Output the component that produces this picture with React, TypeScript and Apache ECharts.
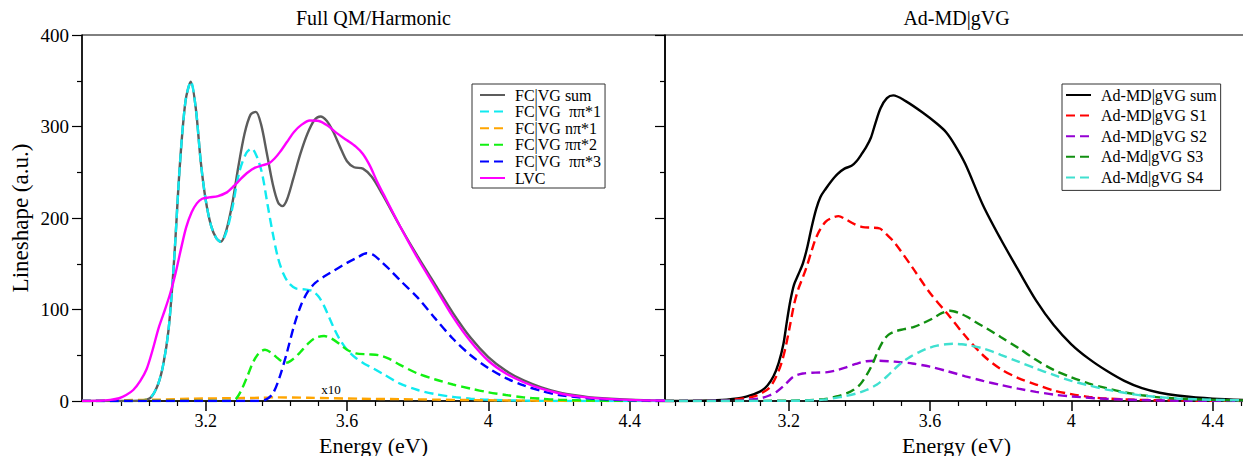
import React, { useEffect, useRef } from "react";
import * as echarts from "echarts";

type P = [number, number];

// ---------- Left panel: Full QM/Harmonic ----------
const fcvgSum: P[] = [[2.85,0],[2.98,0],[3.02,0.5],[3.045,4],[3.065,18],[3.08,40],[3.095,78],[3.11,150],[3.127,258],[3.143,328],[3.158,349],[3.172,320],[3.186,262],[3.2,220],[3.215,192],[3.23,178],[3.243,174],[3.258,186],[3.275,215],[3.292,255],[3.31,292],[3.327,313],[3.342,316],[3.357,302],[3.373,271],[3.39,237],[3.405,217],[3.417,213],[3.43,220],[3.448,243],[3.468,270],[3.488,292],[3.508,307],[3.525,311],[3.543,306],[3.56,295],[3.58,278],[3.6,262],[3.62,255.5],[3.645,254],[3.67,245],[3.7,226],[3.75,191],[3.8,158],[3.85,127],[3.9,96],[3.95,69],[4.0,48],[4.05,33],[4.1,22.5],[4.15,15],[4.2,9.5],[4.25,6],[4.3,3.5],[4.4,1.3],[4.5,0.4]];
const fcvgPiPi1: P[] = [[2.85,0],[2.98,0],[3.02,0.5],[3.045,4],[3.065,18],[3.08,40],[3.095,78],[3.11,150],[3.127,258],[3.143,328],[3.158,349],[3.172,320],[3.186,262],[3.2,220],[3.215,192],[3.23,178],[3.243,174],[3.258,184],[3.275,210],[3.295,250],[3.315,271],[3.33,276],[3.345,267],[3.36,248],[3.375,215],[3.39,183],[3.405,156],[3.42,139],[3.435,129],[3.455,123],[3.48,122],[3.503,120],[3.52,114],[3.535,104],[3.55,91],[3.565,78],[3.58,67],[3.6,56],[3.625,47],[3.65,40.5],[3.675,35.5],[3.7,30],[3.75,19],[3.8,12],[3.85,7.5],[3.9,4.5],[3.95,2.5],[4.0,1.3],[4.1,0.4],[4.2,0],[4.5,0]];
const fcvgNPi1: P[] = [[2.85,0],[2.93,0.3],[2.976,1],[3.07,1.5],[3.165,2.5],[3.26,3],[3.354,3.5],[3.4,4],[3.49,3.5],[3.637,2.5],[3.75,2],[3.85,1.5],[3.95,1],[4.05,0.6],[4.15,0.3],[4.3,0.1],[4.5,0]];
const fcvgPiPi2: P[] = [[2.85,0],[3.27,0],[3.285,2],[3.3,11],[3.318,27],[3.335,43],[3.352,53],[3.368,56],[3.385,53],[3.4,48],[3.415,43.5],[3.43,42],[3.448,46],[3.467,53],[3.488,62],[3.51,69],[3.535,71],[3.555,68.5],[3.58,62],[3.6,56],[3.625,52],[3.66,51],[3.69,50],[3.72,46],[3.75,39.5],[3.8,30],[3.85,23.5],[3.9,18],[3.95,13.5],[4.0,9.5],[4.05,6.5],[4.1,4],[4.15,2.5],[4.2,1.3],[4.3,0.4],[4.5,0]];
const fcvgPiPi3: P[] = [[2.85,0],[3.35,0],[3.37,1.5],[3.39,8],[3.41,27],[3.43,53],[3.45,82],[3.47,105],[3.49,120],[3.51,129],[3.535,136],[3.565,143],[3.6,151],[3.63,157],[3.655,161.5],[3.675,159.5],[3.695,153],[3.72,144],[3.75,132],[3.8,113],[3.85,90],[3.9,68],[3.95,50],[4.0,36],[4.05,25],[4.1,17],[4.15,11],[4.2,6.5],[4.3,2.5],[4.4,0.7],[4.5,0.2]];
const lvc: P[] = [[2.85,0],[2.9,0.3],[2.93,1.2],[2.955,3],[2.975,6.5],[2.995,12],[3.015,22],[3.033,35],[3.05,56],[3.067,80],[3.085,100],[3.1,118],[3.115,140],[3.13,166],[3.145,190],[3.16,206],[3.175,216],[3.19,221],[3.21,222.5],[3.235,224],[3.26,228],[3.28,235],[3.3,243],[3.32,250],[3.34,255],[3.36,257.5],[3.38,260],[3.395,265],[3.41,272],[3.43,283],[3.45,294],[3.47,301.5],[3.495,306.5],[3.52,306],[3.545,301],[3.57,293],[3.6,285],[3.625,278],[3.645,270],[3.665,257],[3.685,240],[3.71,221],[3.75,191],[3.8,156],[3.85,124],[3.9,92],[3.95,65],[4.0,44],[4.05,30],[4.1,20.5],[4.15,13.5],[4.2,8.5],[4.25,5.3],[4.3,3.2],[4.4,1.2],[4.5,0.4]];

// ---------- Right panel: Ad-MD|gVG ----------
const admdSum: P[] = [[2.85,0],[2.95,0.3],[3.025,1.5],[3.08,4.7],[3.12,10.5],[3.14,17],[3.157,27],[3.172,42],[3.185,62],[3.195,87],[3.205,110],[3.215,127],[3.227,138],[3.24,150],[3.252,167],[3.265,190],[3.278,210],[3.29,223],[3.305,232],[3.32,240],[3.338,248],[3.358,254],[3.378,257],[3.392,262],[3.405,269],[3.42,278],[3.433,288],[3.445,303],[3.46,320],[3.478,331],[3.496,334],[3.53,328],[3.58,315],[3.62,303],[3.645,294],[3.67,280],[3.7,259],[3.75,214],[3.8,177],[3.85,143],[3.9,110],[3.95,83],[4.0,62],[4.05,46],[4.1,33],[4.15,22],[4.2,14],[4.25,9],[4.3,6],[4.4,2.5],[4.5,1]];
const admdS1: P[] = [[2.85,0],[2.95,0.3],[3.03,1],[3.1,4.7],[3.125,9],[3.147,15],[3.165,27],[3.18,42],[3.192,60],[3.204,83],[3.215,105],[3.227,122],[3.24,135],[3.252,148],[3.264,163],[3.276,177],[3.29,188],[3.305,196],[3.322,200],[3.341,202],[3.362,198.5],[3.385,193.5],[3.41,190],[3.435,189.5],[3.458,188.5],[3.477,182],[3.5,173],[3.55,146],[3.6,118],[3.65,95],[3.7,71],[3.75,50],[3.8,35],[3.85,25],[3.9,18],[3.95,11.5],[4.0,7.5],[4.05,4.5],[4.1,2.7],[4.2,1.2],[4.3,0.5],[4.5,0]];
const admdS2: P[] = [[2.85,0],[3.0,0.5],[3.07,1],[3.12,3],[3.145,6],[3.167,10.5],[3.19,18],[3.213,26.5],[3.24,30],[3.275,31],[3.31,31.5],[3.335,33.5],[3.36,36.5],[3.39,40.5],[3.42,43.5],[3.455,44],[3.5,43],[3.55,41],[3.6,37.5],[3.65,32.5],[3.7,27],[3.75,22],[3.8,17.5],[3.85,13.5],[3.9,10],[3.95,7],[4.0,5],[4.1,2.3],[4.2,1],[4.3,0.3],[4.5,0]];
const admdS3: P[] = [[2.85,0],[3.2,0.3],[3.3,2],[3.335,5],[3.365,8.5],[3.385,12.5],[3.402,18],[3.42,28],[3.438,41],[3.453,55],[3.468,66],[3.483,72.5],[3.5,76],[3.527,78.5],[3.555,81],[3.58,85],[3.607,90],[3.633,96],[3.657,98.7],[3.68,96.5],[3.705,92],[3.73,86],[3.76,79.5],[3.8,70],[3.85,58],[3.9,45],[3.95,34],[4.0,26],[4.05,19],[4.1,14],[4.15,9.5],[4.2,6.3],[4.25,4],[4.3,2.7],[4.4,1.2],[4.5,0.5]];
const admdS4: P[] = [[2.85,0],[3.2,0.2],[3.3,1.5],[3.355,5],[3.39,8],[3.42,12],[3.45,18],[3.477,26.5],[3.497,34],[3.517,41],[3.545,48.5],[3.572,54],[3.597,58],[3.62,60.5],[3.645,62],[3.667,62.5],[3.69,62],[3.715,60.5],[3.745,58],[3.78,53.5],[3.8,50.5],[3.85,43],[3.9,35.5],[3.95,28.5],[4.0,22],[4.05,17],[4.1,12.5],[4.15,9],[4.2,6],[4.3,2.8],[4.4,1.3],[4.5,0.7]];

const leftNames = ["FC|VG sum", "FC|VG  ππ*1", "FC|VG nπ*1", "FC|VG ππ*2", "FC|VG  ππ*3", "LVC"];
const rightNames = ["Ad-MD|gVG sum", "Ad-MD|gVG S1", "Ad-MD|gVG S2", "Ad-Md|gVG S3", "Ad-Md|gVG S4"];
const panelTitles = ["Full QM/Harmonic", "Ad-MD|gVG"];

const majorTicks = [3.2, 3.6, 4.0, 4.4];
const minorTicks = [2.88, 2.96, 3.04, 3.12, 3.28, 3.36, 3.44, 3.52, 3.68, 3.76, 3.84, 3.92, 4.08, 4.16, 4.24, 4.32, 4.48];

const FONT = "'Liberation Serif', 'Times New Roman', serif";
const X_MIN = 2.85;
const X_MAX = 4.5;

export default function App() {
  const ref = useRef<HTMLDivElement>(null);
  useEffect(() => {
    if (!ref.current) return;
    const chart = echarts.init(ref.current, undefined, { renderer: "svg" });

    const grids = [
      { left: 82, top: 35, width: 583, height: 366, show: true, borderColor: "#000", borderWidth: 1, containLabel: false, outerBoundsMode: "none" },
      { left: 665, top: 35, width: 583, height: 366, show: true, borderColor: "#000", borderWidth: 1, containLabel: false, outerBoundsMode: "none" },
    ];

    const majorX = (gi: number) => ({
      type: "value",
      gridIndex: gi,
      min: X_MIN,
      max: X_MAX,
      position: "bottom",
      name: "Energy (eV)",
      nameLocation: "middle",
      nameGap: 33,
      nameMoveOverlap: false,
      nameTextStyle: { fontFamily: FONT, fontSize: 22, color: "#000" },
      axisLine: { show: true, onZero: false, lineStyle: { color: "#000", width: 1.5 } },
      axisTick: { show: true, customValues: majorTicks, length: 10, lineStyle: { color: "#000", width: 1.5 } },
      axisLabel: { show: true, customValues: majorTicks, margin: 11, fontFamily: FONT, fontSize: 18, color: "#000" },
      splitLine: { show: false },
    });
    const minorX = (gi: number) => ({
      type: "value",
      gridIndex: gi,
      min: X_MIN,
      max: X_MAX,
      position: "bottom",
      axisLine: { show: false, onZero: false },
      axisTick: { show: true, customValues: minorTicks, length: 5, lineStyle: { color: "#000", width: 1.2 } },
      axisLabel: { show: false },
      splitLine: { show: false },
    });
    const yAx = (gi: number, labels: boolean) => ({
      type: "value",
      gridIndex: gi,
      min: 0,
      max: 400,
      interval: 100,
      name: labels ? "Lineshape (a.u.)" : "",
      nameLocation: "middle",
      nameGap: 50,
      nameMoveOverlap: false,
      nameTextStyle: { fontFamily: FONT, fontSize: 23, color: "#000" },
      axisLine: { show: true, lineStyle: { color: "#000", width: 1.5 } },
      axisTick: { show: true, length: 10, lineStyle: { color: "#000", width: 1.2 } },
      minorTick: { show: true, splitNumber: 2, length: 5, lineStyle: { color: "#000", width: 1.2 } },
      axisLabel: { show: labels, margin: 13, fontFamily: FONT, fontSize: 19, color: "#000" },
      splitLine: { show: false },
    });

    const mk = (name: string, data: P[], color: string, dashed: boolean, xi: number, yi: number, w = 2.4) => ({
      type: "line",
      name,
      data,
      xAxisIndex: xi,
      yAxisIndex: yi,
      showSymbol: false,
      symbol: "none",
      smooth: 0.3,
      lineStyle: { color, width: w, type: dashed ? [9, 5] : "solid" },
      itemStyle: { color },
      emphasis: { disabled: true },
    });

    const legendCommon = {
      orient: "vertical",
      show: true,
      backgroundColor: "#fff",
      borderColor: "#333",
      borderWidth: 1,
      itemWidth: 25,
      itemHeight: 12,
      selectedMode: false,
      itemStyle: { opacity: 0 },
      lineStyle: { opacity: 1 },
      textStyle: { fontFamily: FONT, fontSize: 16, color: "#000", padding: [0, 0, 0, 5] },
    };

    chart.setOption({
      animation: false,
      backgroundColor: "#fff",
      grid: grids,
      xAxis: [majorX(0), minorX(0), majorX(1), minorX(1)],
      yAxis: [yAx(0, true), yAx(1, false)],
      legend: [
        { ...legendCommon, data: leftNames, left: 472, top: 84, padding: [3, 4, 2, 7], itemGap: 0.6 },
        { ...legendCommon, data: rightNames, left: 1062, top: 84, padding: [3, 4, 5, 3], itemGap: 4.6 },
      ],
      series: [
        mk(leftNames[0], fcvgSum, "#5c5c5c", false, 0, 0),
        mk(leftNames[1], fcvgPiPi1, "#10eaf0", true, 0, 0),
        mk(leftNames[2], fcvgNPi1, "#ffa500", true, 0, 0),
        mk(leftNames[3], fcvgPiPi2, "#12f012", true, 0, 0),
        mk(leftNames[4], fcvgPiPi3, "#0000ff", true, 0, 0),
        mk(leftNames[5], lvc, "#ff00ff", false, 0, 0),
        mk(rightNames[0], admdSum, "#000000", false, 2, 1),
        mk(rightNames[1], admdS1, "#ff0000", true, 2, 1),
        mk(rightNames[2], admdS2, "#9400d3", true, 2, 1),
        mk(rightNames[3], admdS3, "#118f11", true, 2, 1),
        mk(rightNames[4], admdS4, "#40e0d0", true, 2, 1),
      ],
    });

    const c0 = chart.convertToPixel({ xAxisIndex: 0, yAxisIndex: 0 }, [(X_MIN + X_MAX) / 2, 400]) as number[];
    const c1 = chart.convertToPixel({ xAxisIndex: 2, yAxisIndex: 1 }, [(X_MIN + X_MAX) / 2, 400]) as number[];
    const x10 = chart.convertToPixel({ xAxisIndex: 0, yAxisIndex: 0 }, [3.555, 13]) as number[];
    chart.setOption({
      graphic: [
        { type: "text", x: c0[0], y: c0[1] - 17, style: { text: panelTitles[0], font: `20px ${FONT}`, fill: "#000", align: "center", verticalAlign: "middle" } },
        { type: "text", x: c1[0], y: c1[1] - 17, style: { text: panelTitles[1], font: `20px ${FONT}`, fill: "#000", align: "center", verticalAlign: "middle" } },
        { type: "text", x: x10[0], y: x10[1], style: { text: "x10", font: `13px ${FONT}`, fill: "#000", align: "center", verticalAlign: "middle" } },
      ],
    });

    return () => chart.dispose();
  }, []);

  return (
    <div style={{ position: "fixed", left: 0, top: 0, width: 1243, height: 456, overflow: "hidden", background: "#fff" }}>
      <div ref={ref} style={{ width: 1252, height: 456 }} />
    </div>
  );
}
